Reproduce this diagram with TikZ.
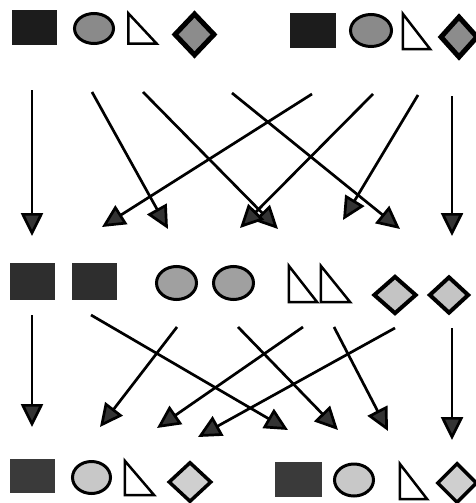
\documentclass[tikz,border=0pt]{standalone}
\usetikzlibrary{shapes.geometric,arrows.meta}
\definecolor{sqT}{HTML}{1C1C1C}
\definecolor{sqM}{HTML}{2E2E2E}
\definecolor{sqB}{HTML}{3A3A3A}
\definecolor{ovT}{HTML}{8A8A8A}
\definecolor{ovM}{HTML}{A0A0A0}
\definecolor{ovB}{HTML}{C8C8C8}
\definecolor{dmT}{HTML}{8C8C8C}
\definecolor{dmM}{HTML}{C4C4C4}
\definecolor{dmB}{HTML}{CFCFCF}
\begin{document}
\begin{tikzpicture}[x=1pt,y=-1pt,
  sq/.style={rectangle,draw=none,inner sep=0,minimum width=45,minimum height=36},
  ov/.style={ellipse,draw=black,line width=3,inner sep=0,minimum width=40,minimum height=32},
  dm/.style={diamond,draw=black,line width=3.5,inner sep=0},
  trb/.style={rectangle,draw=none,inner sep=0},
  tri/.style={draw=black,line width=2.5,fill=white,line join=miter},
  arr/.style={line width=2.7pt,draw=black,-{Triangle[length=23pt,width=22pt,fill=black!80]}}
]
\useasboundingbox[fill=white] (0,0) rectangle (476,503);

% ---------- top row ----------
\node (sT1) [sq,fill=sqT,minimum height=35] at (34.5,27.5) {};
\node (oT1) [ov,fill=ovT,minimum width=39,minimum height=30] at (94,28.5) {};
\node (tT1) [trb,minimum width=28,minimum height=30] at (142.5,28.5) {};
\draw[tri] (tT1.north west) -- (tT1.south west) -- (tT1.south east) -- cycle;
\node (dT1) [dm,fill=dmT,line width=5,minimum width=41,minimum height=43] at (194.5,34.5) {};

\node (sT2) [sq,fill=sqT,minimum width=46,minimum height=35] at (313,30.5) {};
\node (oT2) [ov,fill=ovT,minimum width=41,minimum height=32] at (371,30.5) {};
\node (tT2) [trb,minimum width=27,minimum height=35] at (416.5,31.5) {};
\draw[tri] (tT2.north west) -- (tT2.south west) -- (tT2.south east) -- cycle;
\node (dT2) [dm,fill=dmT,line width=5,minimum width=38,minimum height=42] at (459,37) {};

% ---------- middle row ----------
\node (sM1) [sq,fill=sqM,minimum height=37] at (32.5,281.5) {};
\node (sM2) [sq,fill=sqM,minimum height=37] at (94.5,281.5) {};
\node (oM1) [ov,fill=ovM,minimum width=40,minimum height=33] at (176.5,283) {};
\node (oM2) [ov,fill=ovM,minimum width=40,minimum height=33] at (233.5,283) {};
\node (tM1) [trb,minimum width=28,minimum height=36] at (303,284) {};
\draw[tri] (tM1.north west) -- (tM1.south west) -- (tM1.south east) -- cycle;
\node (tM2) [trb,minimum width=29,minimum height=36] at (335.5,284) {};
\draw[tri] (tM2.north west) -- (tM2.south west) -- (tM2.south east) -- cycle;
\node (dM1) [dm,fill=dmM,line width=4,minimum width=43,minimum height=38] at (395,295) {};
\node (dM2) [dm,fill=dmM,line width=4,minimum width=40,minimum height=37] at (449,295) {};

% ---------- bottom row ----------
\node (sB1) [sq,fill=sqB,minimum height=34] at (32.5,476) {};
\node (oB1) [ov,fill=ovB,minimum width=38,minimum height=32] at (91.5,477.5) {};
\node (tB1) [trb,minimum width=29,minimum height=34] at (139.5,478) {};
\draw[tri] (tB1.north west) -- (tB1.south west) -- (tB1.south east) -- cycle;
\node (dB1) [dm,fill=dmB,line width=3.5,minimum width=43,minimum height=40] at (190,482) {};

\node (sB2) [sq,fill=sqB,minimum width=47,minimum height=35] at (298.5,479.5) {};
\node (oB2) [ov,fill=ovB,minimum width=39,minimum height=32] at (354,480) {};
\node (tB2) [trb,minimum width=27,minimum height=35] at (413.5,481.5) {};
\draw[tri] (tB2.north west) -- (tB2.south west) -- (tB2.south east) -- cycle;
\node (dB2) [dm,fill=dmB,line width=3.5,minimum width=40,minimum height=40] at (457,483) {};

% ---------- arrows, first layer ----------
\coordinate (a1s) at (32,90);   \coordinate (a1e) at (32,236);
\coordinate (a2s) at (92,92);   \coordinate (a2e) at (168,229);
\coordinate (a3s) at (143,92);  \coordinate (a3e) at (278,229);
\coordinate (a4s) at (232,93);  \coordinate (a4e) at (400,229);
\coordinate (a5s) at (312,94);  \coordinate (a5e) at (102,227);
\coordinate (a6s) at (373,94);  \coordinate (a6e) at (240,228);
\coordinate (a7s) at (418,95);  \coordinate (a7e) at (343,220);
\coordinate (a8s) at (452,96);  \coordinate (a8e) at (452,236);
\foreach \i in {1,...,8} \draw[arr] (a\i s) -- (a\i e);

% ---------- arrows, second layer ----------
\coordinate (b1s) at (32,315);  \coordinate (b1e) at (32,427);
\coordinate (b2s) at (91,315);  \coordinate (b2e) at (288,430);
\coordinate (b3s) at (177,327); \coordinate (b3e) at (100,427);
\coordinate (b4s) at (238,327); \coordinate (b4e) at (338,430);
\coordinate (b5s) at (303,327); \coordinate (b5e) at (157,428);
\coordinate (b6s) at (334,327); \coordinate (b6e) at (388,431);
\coordinate (b7s) at (395,328); \coordinate (b7e) at (198,437);
\coordinate (b8s) at (452,328); \coordinate (b8e) at (452,440);
\foreach \i in {1,...,8} \draw[arr] (b\i s) -- (b\i e);
\end{tikzpicture}
\end{document}
